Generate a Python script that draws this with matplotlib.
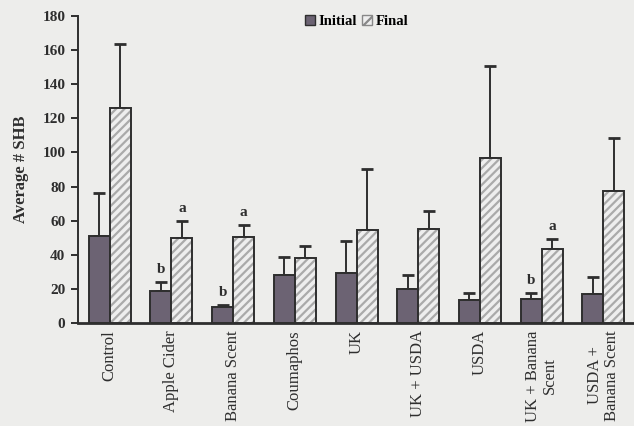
import numpy as np
import matplotlib
matplotlib.use("Agg")
import matplotlib.pyplot as plt
from matplotlib.patches import Patch

# beetle counts per treatment (mean and upper error)
treatments = ["Control", "Apple Cider", "Banana Scent", "Coumaphos", "UK",
              "UK + USDA", "USDA", "UK + Banana\nScent", "USDA +\nBanana Scent"]
initial = [51, 19, 9.5, 28.5, 29.5, 20, 13.5, 14.5, 17]
initial_err = [25, 5, 1, 10.5, 18.5, 8, 4, 3, 10]
final = [126, 50, 50.5, 38, 54.5, 55, 96.5, 43.5, 77.5]
final_err = [37.5, 10, 7, 7, 36, 11, 54, 6, 31]
initial_letters = ["", "b", "b", "", "", "", "", "b", ""]
final_letters = ["", "a", "a", "", "", "", "", "a", ""]

bg = "#ededeb"
dark = "#2e2e2e"
initial_color = "#6c6373"
hatch_color = "#aaaaaa"

plt.rcParams["font.family"] = ["Liberation Serif", "DejaVu Serif"]
plt.rcParams["hatch.linewidth"] = 1.6

fig = plt.figure(figsize=(6.34, 4.26), dpi=100, facecolor=bg)
ax = fig.add_axes([78 / 634, 1 - 323.3 / 426, 1 - 78 / 634 + 0.01, (323.3 - 15.7) / 426])
ax.set_facecolor(bg)

x = np.arange(len(treatments))
w = 0.34

ax.bar(x - w / 2, initial, w, color=initial_color, edgecolor=dark, linewidth=1.4, zorder=3)
# hatch drawn first in light grey, outline drawn over it
ax.bar(x + w / 2, final, w, color="#eeeeee", edgecolor=hatch_color, hatch="////",
       linewidth=0, zorder=3)
ax.bar(x + w / 2, final, w, fill=False, edgecolor=dark, linewidth=1.4, zorder=4)

ax.errorbar(x - w / 2, initial, yerr=[np.zeros(len(x)), initial_err], fmt="none",
            ecolor=dark, elinewidth=1.4, capsize=4, capthick=2, zorder=2)
ax.errorbar(x + w / 2, final, yerr=[np.zeros(len(x)), final_err], fmt="none",
            ecolor=dark, elinewidth=1.4, capsize=4, capthick=2, zorder=2)

for i in range(len(x)):
    if initial_letters[i]:
        ax.annotate(initial_letters[i], (x[i] - w / 2, initial[i] + initial_err[i]),
                    xytext=(0, 6.5), textcoords="offset points", ha="center",
                    va="baseline", fontsize=11, fontweight="bold", color=dark)
    if final_letters[i]:
        ax.annotate(final_letters[i], (x[i] + w / 2, final[i] + final_err[i]),
                    xytext=(0, 6.5), textcoords="offset points", ha="center",
                    va="baseline", fontsize=11, fontweight="bold", color=dark)

ax.set_xlim(-0.515, 8.6)
ax.set_ylim(0, 180)
ax.set_yticks(np.arange(0, 181, 20))
ax.tick_params(axis="y", direction="out", length=5, width=1.4, colors=dark,
               labelsize=11, pad=4)
for lbl in ax.get_yticklabels():
    lbl.set_fontweight("bold")
ax.set_xticks(x)
ax.set_xticklabels(treatments, rotation=90, fontsize=12, color=dark,
                   linespacing=1.05)
ax.tick_params(axis="x", length=0, pad=5)

ax.spines["top"].set_visible(False)
ax.spines["right"].set_visible(False)
ax.spines["left"].set_linewidth(1.4)
ax.spines["left"].set_color(dark)
ax.spines["bottom"].set_linewidth(2)
ax.spines["bottom"].set_color(dark)

ax.set_ylabel("Average # SHB", fontsize=12, fontweight="bold", color=dark, labelpad=10)

handles = [Patch(facecolor=initial_color, edgecolor=dark, linewidth=1),
           Patch(facecolor="#eeeeee", edgecolor="#888888", hatch="///", linewidth=1)]
ax.legend(handles, ["Initial", "Final"], loc="upper left", bbox_to_anchor=(0.38, 1.045),
          ncol=2, frameon=False, handlelength=0.7, handleheight=0.7,
          handletextpad=0.25, columnspacing=0.35, prop={"weight": "bold", "size": 10.5})

fig.savefig("out.png", dpi=100, facecolor=bg)
